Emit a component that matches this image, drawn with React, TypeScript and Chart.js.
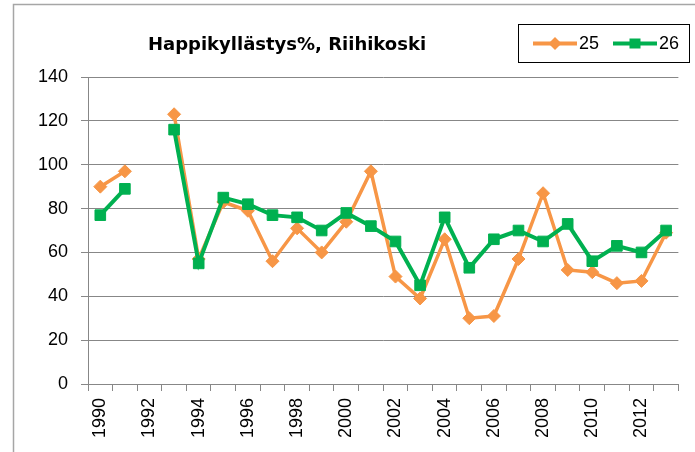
import React, { useEffect, useRef } from 'react';
import { Chart, registerables } from 'chart.js';

Chart.register(...registerables);

const chartTitle = 'Happikyllästys%, Riihikoski';
const years = [
  '1990', '1991', '1992', '1993', '1994', '1995', '1996', '1997', '1998', '1999', '2000', '2001',
  '2002', '2003', '2004', '2005', '2006', '2007', '2008', '2009', '2010', '2011', '2012', '2013',
];
const seriesNames = ['25', '26'];
const station25 = [90, 97, null, 123, 57, 83, 79, 56, 71, 60, 74, 97, 49, 39, 66, 30, 31, 57, 87, 52, 51, 46, 47, 69];
const station26 = [77, 89, null, 116, 55, 85, 82, 77, 76, 70, 78, 72, 65, 45, 76, 53, 66, 70, 65, 73, 56, 63, 60, 70];
const yMin = 0;
const yMax = 140;
const yStep = 20;

const ORANGE = '#F79646';
const GREEN = '#00B050';
const GRID = '#878787';

const decorPlugin = {
  id: 'decor',
  beforeDraw(chart: any) {
    const ctx = chart.ctx;
    ctx.save();
    ctx.fillStyle = '#ffffff';
    ctx.fillRect(0, 0, chart.width, chart.height);
    ctx.strokeStyle = '#a6a6a6';
    ctx.lineWidth = 1.5;
    ctx.beginPath();
    ctx.moveTo(13.5, chart.height);
    ctx.lineTo(13.5, 4.5);
    ctx.lineTo(chart.width, 4.5);
    ctx.stroke();
    ctx.restore();
  },
  afterDraw(chart: any) {
    const ctx = chart.ctx;
    ctx.save();
    // title
    ctx.fillStyle = '#000';
    ctx.font = 'bold 18px "DejaVu Sans"';
    ctx.textAlign = 'center';
    ctx.textBaseline = 'alphabetic';
    ctx.fillText(chartTitle, 287, 50);

    // legend box
    ctx.strokeStyle = '#000';
    ctx.lineWidth = 1;
    ctx.strokeRect(518.5, 24.5, 171, 38);
    const ly = 43.5;
    chart.data.datasets.forEach((ds: any, i: number) => {
      const x0 = 533 + i * 80;
      const x1 = 577 + i * 80;
      const cx = (x0 + x1) / 2;
      ctx.strokeStyle = ds.borderColor;
      ctx.lineWidth = 4;
      ctx.beginPath();
      ctx.moveTo(x0, ly);
      ctx.lineTo(x1, ly);
      ctx.stroke();
      ctx.fillStyle = ds.borderColor;
      if (ds.pointStyle === 'rectRot') {
        const r = 6.5;
        ctx.beginPath();
        ctx.moveTo(cx - r, ly);
        ctx.lineTo(cx, ly - r);
        ctx.lineTo(cx + r, ly);
        ctx.lineTo(cx, ly + r);
        ctx.closePath();
        ctx.fill();
      } else {
        ctx.fillRect(cx - 5.5, ly - 5, 11, 10);
      }
      ctx.fillStyle = '#000';
      ctx.font = '18px "Liberation Sans"';
      ctx.textAlign = 'left';
      ctx.textBaseline = 'middle';
      ctx.fillText(ds.label, x1 + 2, ly + 1);
    });
    ctx.restore();
  },
};

export default function App() {
  const canvasRef = useRef<HTMLCanvasElement | null>(null);

  useEffect(() => {
    const canvas = canvasRef.current;
    if (!canvas) return;
    const chart = new Chart(canvas, {
      type: 'line',
      data: {
        labels: years,
        datasets: [
          {
            label: seriesNames[0],
            data: station25,
            borderColor: ORANGE,
            backgroundColor: ORANGE,
            borderWidth: 3.5,
            pointStyle: 'rectRot',
            pointRadius: 6.5,
            pointBorderWidth: 1,
            pointBackgroundColor: ORANGE,
            pointBorderColor: ORANGE,
            spanGaps: false,
            tension: 0,
            order: 1,
          },
          {
            label: seriesNames[1],
            data: station26,
            borderColor: GREEN,
            backgroundColor: GREEN,
            borderWidth: 4,
            pointStyle: 'rect',
            pointRadius: 7.5,
            pointBorderWidth: 1,
            pointBackgroundColor: GREEN,
            pointBorderColor: GREEN,
            spanGaps: false,
            tension: 0,
            order: 0,
          },
        ],
      },
      options: {
        animation: false,
        responsive: false,
        devicePixelRatio: 1,
        layout: { padding: { left: 0, top: 77, right: 15, bottom: 0 } },
        plugins: {
          legend: { display: false },
          title: { display: false },
          tooltip: { enabled: false },
        },
        scales: {
          x: {
            type: 'category',
            offset: true,
            grid: {
              offset: true,
              drawOnChartArea: false,
              drawTicks: true,
              tickLength: 7,
              color: GRID,
              lineWidth: 1,
            },
            border: { display: true, color: GRID, width: 1 },
            ticks: {
              autoSkip: false,
              minRotation: 90,
              maxRotation: 90,
              padding: 7,
              color: '#000',
              font: { family: '"Liberation Sans"', size: 18 },
              callback: (_v: any, i: number) => (i % 2 === 0 ? years[i] : ''),
            },
            afterFit: (scale: any) => {
              scale.height = 68;
            },
          },
          y: {
            min: yMin,
            max: yMax,
            grid: {
              drawOnChartArea: true,
              drawTicks: true,
              tickLength: 7,
              color: GRID,
              lineWidth: 1,
            },
            border: { display: true, color: GRID, width: 1 },
            ticks: {
              stepSize: yStep,
              padding: 13,
              color: '#000',
              font: { family: '"Liberation Sans"', size: 18 },
            },
            afterFit: (scale: any) => {
              scale.width = 88;
            },
          },
        },
      },
      plugins: [decorPlugin],
    } as any);
    return () => chart.destroy();
  }, []);

  return (
    <div style={{ position: 'fixed', left: 0, top: 0, width: 695, height: 452 }}>
      <canvas ref={canvasRef} width={695} height={452} style={{ display: 'block', width: 695, height: 452 }} />
    </div>
  );
}
